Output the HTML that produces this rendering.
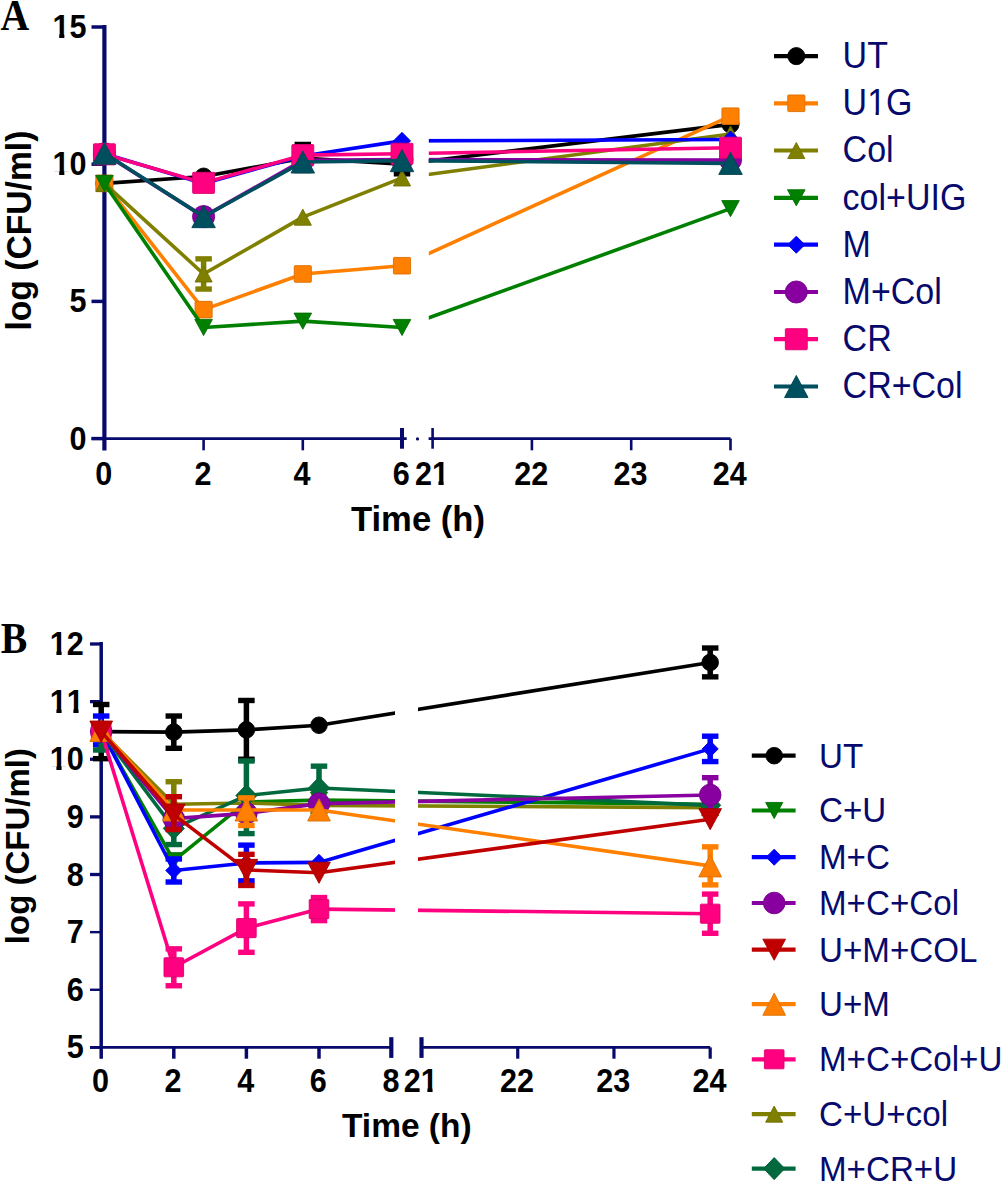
<!DOCTYPE html><html><head><meta charset="utf-8"><style>html,body{margin:0;padding:0;background:#fff;overflow:hidden;width:1003px;height:1184px;}svg{display:block;}</style></head><body>
<svg width="1003" height="1184" viewBox="0 0 1003 1184">
<style>text{font-family:"Liberation Sans",sans-serif;}.pl{font-family:"Liberation Serif",serif;font-weight:bold;font-size:41px;fill:#000}.tk{font-weight:bold;font-size:32px;fill:#000}.ti{font-weight:bold;font-size:34px;fill:#000}.tb{font-size:33px}.lg{font-size:34px;fill:#070a6c}.lb{font-size:33px}</style>
<rect width="1003" height="1184" fill="#fff"/>
<defs><clipPath id="c1"><rect x="-5" y="-40" width="40" height="36.2"/><rect x="6.9" y="-5" width="5.4" height="10"/></clipPath><clipPath id="c1r"><rect x="-5" y="-40" width="40" height="36.9"/><rect x="8.45" y="-5" width="3.2" height="10"/></clipPath><clipPath id="cA"><rect x="0" y="0" width="405.8" height="600"/><rect x="428.8" y="0" width="400" height="600"/></clipPath><clipPath id="cB"><rect x="0" y="600" width="395" height="600"/><rect x="418" y="600" width="400" height="600"/></clipPath></defs>
<line x1="104.4" y1="25" x2="104.4" y2="450.5" stroke="#070a6c" stroke-width="4.2"/>
<line x1="91.5" y1="438.6" x2="104.4" y2="438.6" stroke="#070a6c" stroke-width="3.5"/>
<line x1="91.5" y1="301.4" x2="104.4" y2="301.4" stroke="#070a6c" stroke-width="3.5"/>
<line x1="91.5" y1="164.2" x2="104.4" y2="164.2" stroke="#070a6c" stroke-width="3.5"/>
<line x1="91.5" y1="27" x2="104.4" y2="27" stroke="#070a6c" stroke-width="3.5"/>
<line x1="91.5" y1="438.6" x2="406.7" y2="438.6" stroke="#070a6c" stroke-width="2.8"/>
<line x1="428.6" y1="438.6" x2="730.5" y2="438.6" stroke="#070a6c" stroke-width="2.8"/>
<line x1="203.6" y1="438.6" x2="203.6" y2="450.3" stroke="#070a6c" stroke-width="2.6"/>
<line x1="302.8" y1="438.6" x2="302.8" y2="450.3" stroke="#070a6c" stroke-width="2.6"/>
<line x1="402" y1="428" x2="402" y2="448.7" stroke="#070a6c" stroke-width="4"/>
<circle cx="417.5" cy="438.9" r="1.6" fill="#070a6c"/>
<line x1="432.6" y1="428" x2="432.6" y2="448.7" stroke="#070a6c" stroke-width="2.6"/>
<line x1="531.9" y1="438.6" x2="531.9" y2="450.3" stroke="#070a6c" stroke-width="2.6"/>
<line x1="631.2" y1="438.6" x2="631.2" y2="450.3" stroke="#070a6c" stroke-width="2.6"/>
<line x1="730.5" y1="438.6" x2="730.5" y2="450.3" stroke="#070a6c" stroke-width="2.6"/>
<line x1="101.2" y1="642" x2="101.2" y2="1058.7" stroke="#070a6c" stroke-width="3.5"/>
<line x1="90" y1="1047.4" x2="101.2" y2="1047.4" stroke="#070a6c" stroke-width="2.8"/>
<line x1="90" y1="989.77" x2="101.2" y2="989.77" stroke="#070a6c" stroke-width="2.4"/>
<line x1="90" y1="932.14" x2="101.2" y2="932.14" stroke="#070a6c" stroke-width="2.4"/>
<line x1="90" y1="874.51" x2="101.2" y2="874.51" stroke="#070a6c" stroke-width="3.3"/>
<line x1="90" y1="816.88" x2="101.2" y2="816.88" stroke="#070a6c" stroke-width="3.3"/>
<line x1="90" y1="759.25" x2="101.2" y2="759.25" stroke="#070a6c" stroke-width="3.3"/>
<line x1="90" y1="701.62" x2="101.2" y2="701.62" stroke="#070a6c" stroke-width="3.3"/>
<line x1="90" y1="643.99" x2="101.2" y2="643.99" stroke="#070a6c" stroke-width="3.3"/>
<line x1="90" y1="1047.4" x2="391.3" y2="1047.4" stroke="#070a6c" stroke-width="2.6"/>
<line x1="421.5" y1="1047.4" x2="710.2" y2="1047.4" stroke="#070a6c" stroke-width="2.6"/>
<line x1="173.8" y1="1047.4" x2="173.8" y2="1058.7" stroke="#070a6c" stroke-width="3.5"/>
<line x1="246.4" y1="1047.4" x2="246.4" y2="1058.7" stroke="#070a6c" stroke-width="3.5"/>
<line x1="319" y1="1047.4" x2="319" y2="1058.7" stroke="#070a6c" stroke-width="3.5"/>
<line x1="391.3" y1="1037.2" x2="391.3" y2="1057.9" stroke="#070a6c" stroke-width="4.2"/>
<line x1="421.5" y1="1037.2" x2="421.5" y2="1057.9" stroke="#070a6c" stroke-width="4.2"/>
<line x1="517.73" y1="1047.4" x2="517.73" y2="1058.7" stroke="#070a6c" stroke-width="3.2"/>
<line x1="613.96" y1="1047.4" x2="613.96" y2="1058.7" stroke="#070a6c" stroke-width="3.2"/>
<line x1="710.19" y1="1047.4" x2="710.19" y2="1058.7" stroke="#070a6c" stroke-width="3.2"/>
<g>
<polyline points="104.4,183.41 203.6,176.55 302.8,158.16 402,164.2 730.5,124.41" fill="none" stroke="#000000" stroke-width="3.6" stroke-linejoin="round" clip-path="url(#cA)"/>
<rect x="300.05" y="144.44" width="5.5" height="26.07" fill="#000000"/><rect x="294.55" y="141.74" width="16.5" height="5.4" fill="#000000"/><rect x="294.55" y="167.81" width="16.5" height="5.4" fill="#000000"/>
<rect x="399.25" y="158.71" width="5.5" height="15.09" fill="#000000"/><rect x="393.75" y="156.01" width="16.5" height="5.4" fill="#000000"/><rect x="393.75" y="171.1" width="16.5" height="5.4" fill="#000000"/>
<circle cx="104.4" cy="183.41" r="8.55" fill="#000000" stroke="#000000" stroke-width="0.9" stroke-linejoin="round"/>
<circle cx="203.6" cy="176.55" r="8.55" fill="#000000" stroke="#000000" stroke-width="0.9" stroke-linejoin="round"/>
<circle cx="302.8" cy="158.16" r="8.55" fill="#000000" stroke="#000000" stroke-width="0.9" stroke-linejoin="round"/>
<circle cx="402" cy="164.2" r="8.55" fill="#000000" stroke="#000000" stroke-width="0.9" stroke-linejoin="round"/>
<circle cx="730.5" cy="124.41" r="8.55" fill="#000000" stroke="#000000" stroke-width="0.9" stroke-linejoin="round"/>
<polyline points="104.4,183.41 203.6,309.63 302.8,273.96 402,265.73 730.5,116.18" fill="none" stroke="#ff8000" stroke-width="3.6" stroke-linejoin="round" clip-path="url(#cA)"/>
<rect x="95.85" y="175.11" width="17.1" height="16.6" rx="0.8" fill="#ff8000" stroke="#db6e00" stroke-width="0.9" stroke-linejoin="round"/>
<rect x="195.05" y="301.33" width="17.1" height="16.6" rx="0.8" fill="#ff8000" stroke="#db6e00" stroke-width="0.9" stroke-linejoin="round"/>
<rect x="294.25" y="265.66" width="17.1" height="16.6" rx="0.8" fill="#ff8000" stroke="#db6e00" stroke-width="0.9" stroke-linejoin="round"/>
<rect x="393.45" y="257.43" width="17.1" height="16.6" rx="0.8" fill="#ff8000" stroke="#db6e00" stroke-width="0.9" stroke-linejoin="round"/>
<rect x="721.95" y="107.88" width="17.1" height="16.6" rx="0.8" fill="#ff8000" stroke="#db6e00" stroke-width="0.9" stroke-linejoin="round"/>
<polyline points="104.4,183.41 203.6,273.96 302.8,217.16 402,177.92 730.5,134.02" fill="none" stroke="#808000" stroke-width="3.6" stroke-linejoin="round" clip-path="url(#cA)"/>
<rect x="200.85" y="258.87" width="5.5" height="30.18" fill="#808000"/><rect x="195.35" y="256.17" width="16.5" height="5.4" fill="#808000"/><rect x="195.35" y="286.35" width="16.5" height="5.4" fill="#808000"/>
<path d="M104.4 175.36L112.95 191.46L95.85 191.46Z" fill="#808000" stroke="#6e6e00" stroke-width="0.9" stroke-linejoin="round"/>
<path d="M203.6 265.91L212.15 282.01L195.05 282.01Z" fill="#808000" stroke="#6e6e00" stroke-width="0.9" stroke-linejoin="round"/>
<path d="M302.8 209.11L311.35 225.21L294.25 225.21Z" fill="#808000" stroke="#6e6e00" stroke-width="0.9" stroke-linejoin="round"/>
<path d="M402 169.87L410.55 185.97L393.45 185.97Z" fill="#808000" stroke="#6e6e00" stroke-width="0.9" stroke-linejoin="round"/>
<path d="M730.5 125.97L739.05 142.07L721.95 142.07Z" fill="#808000" stroke="#6e6e00" stroke-width="0.9" stroke-linejoin="round"/>
<polyline points="104.4,183.41 203.6,327.47 302.8,321.16 402,327.47 730.5,208.65" fill="none" stroke="#008000" stroke-width="3.6" stroke-linejoin="round" clip-path="url(#cA)"/>
<path d="M104.4 191.46L113.2 175.36L95.6 175.36Z" fill="#008000" stroke="#006e00" stroke-width="0.9" stroke-linejoin="round"/>
<path d="M203.6 335.52L212.4 319.42L194.8 319.42Z" fill="#008000" stroke="#006e00" stroke-width="0.9" stroke-linejoin="round"/>
<path d="M302.8 329.21L311.6 313.11L294 313.11Z" fill="#008000" stroke="#006e00" stroke-width="0.9" stroke-linejoin="round"/>
<path d="M402 335.52L410.8 319.42L393.2 319.42Z" fill="#008000" stroke="#006e00" stroke-width="0.9" stroke-linejoin="round"/>
<path d="M730.5 216.7L739.3 200.6L721.7 200.6Z" fill="#008000" stroke="#006e00" stroke-width="0.9" stroke-linejoin="round"/>
<polyline points="104.4,153.77 203.6,183.41 302.8,155.97 402,140.88 730.5,139.5" fill="none" stroke="#0000ff" stroke-width="3.6" stroke-linejoin="round" clip-path="url(#cA)"/>
<path d="M104.4 145.22L112.95 153.77L104.4 162.32L95.85 153.77Z" fill="#0000ff" stroke="#0000db" stroke-width="0.9" stroke-linejoin="round"/>
<path d="M203.6 174.86L212.15 183.41L203.6 191.96L195.05 183.41Z" fill="#0000ff" stroke="#0000db" stroke-width="0.9" stroke-linejoin="round"/>
<path d="M302.8 147.42L311.35 155.97L302.8 164.52L294.25 155.97Z" fill="#0000ff" stroke="#0000db" stroke-width="0.9" stroke-linejoin="round"/>
<path d="M402 132.33L410.55 140.88L402 149.43L393.45 140.88Z" fill="#0000ff" stroke="#0000db" stroke-width="0.9" stroke-linejoin="round"/>
<path d="M730.5 130.95L739.05 139.5L730.5 148.05L721.95 139.5Z" fill="#0000ff" stroke="#0000db" stroke-width="0.9" stroke-linejoin="round"/>
<polyline points="104.4,153.77 203.6,216.61 302.8,160.36 402,159.54 730.5,160.08" fill="none" stroke="#8800a0" stroke-width="3.6" stroke-linejoin="round" clip-path="url(#cA)"/>
<circle cx="104.4" cy="153.77" r="11.05" fill="#8800a0" stroke="#740089" stroke-width="0.9" stroke-linejoin="round"/>
<circle cx="203.6" cy="216.61" r="11.05" fill="#8800a0" stroke="#740089" stroke-width="0.9" stroke-linejoin="round"/>
<circle cx="302.8" cy="160.36" r="11.05" fill="#8800a0" stroke="#740089" stroke-width="0.9" stroke-linejoin="round"/>
<circle cx="402" cy="159.54" r="11.05" fill="#8800a0" stroke="#740089" stroke-width="0.9" stroke-linejoin="round"/>
<circle cx="730.5" cy="160.08" r="11.05" fill="#8800a0" stroke="#740089" stroke-width="0.9" stroke-linejoin="round"/>
<polyline points="104.4,154.32 203.6,182.86 302.8,155.14 402,153.77 730.5,147.74" fill="none" stroke="#ff0080" stroke-width="3.6" stroke-linejoin="round" clip-path="url(#cA)"/>
<rect x="93.45" y="143.77" width="21.9" height="21.1" rx="0.8" fill="#ff0080" stroke="#db006e" stroke-width="0.9" stroke-linejoin="round"/>
<rect x="192.65" y="172.31" width="21.9" height="21.1" rx="0.8" fill="#ff0080" stroke="#db006e" stroke-width="0.9" stroke-linejoin="round"/>
<rect x="291.85" y="144.59" width="21.9" height="21.1" rx="0.8" fill="#ff0080" stroke="#db006e" stroke-width="0.9" stroke-linejoin="round"/>
<rect x="391.05" y="143.22" width="21.9" height="21.1" rx="0.8" fill="#ff0080" stroke="#db006e" stroke-width="0.9" stroke-linejoin="round"/>
<rect x="719.55" y="137.19" width="21.9" height="21.1" rx="0.8" fill="#ff0080" stroke="#db006e" stroke-width="0.9" stroke-linejoin="round"/>
<polyline points="104.4,153.22 203.6,216.61 302.8,162 402,160.63 730.5,163.38" fill="none" stroke="#004f5f" stroke-width="3.6" stroke-linejoin="round" clip-path="url(#cA)"/>
<path d="M104.4 142.17L116.15 164.27L92.65 164.27Z" fill="#004f5f" stroke="#004351" stroke-width="0.9" stroke-linejoin="round"/>
<path d="M203.6 205.56L215.35 227.66L191.85 227.66Z" fill="#004f5f" stroke="#004351" stroke-width="0.9" stroke-linejoin="round"/>
<path d="M302.8 150.95L314.55 173.05L291.05 173.05Z" fill="#004f5f" stroke="#004351" stroke-width="0.9" stroke-linejoin="round"/>
<path d="M402 149.58L413.75 171.68L390.25 171.68Z" fill="#004f5f" stroke="#004351" stroke-width="0.9" stroke-linejoin="round"/>
<path d="M730.5 152.33L742.25 174.43L718.75 174.43Z" fill="#004f5f" stroke="#004351" stroke-width="0.9" stroke-linejoin="round"/>
</g>
<g>
<polyline points="101.2,731.59 173.8,732.16 246.4,729.86 319,725.25 710.19,662.43" fill="none" stroke="#000000" stroke-width="3.6" stroke-linejoin="round" clip-path="url(#cB)"/>
<rect x="98.45" y="704.5" width="5.5" height="54.17" fill="#000000"/><rect x="92.95" y="701.8" width="16.5" height="5.4" fill="#000000"/><rect x="92.95" y="755.97" width="16.5" height="5.4" fill="#000000"/>
<rect x="171.05" y="716.03" width="5.5" height="32.27" fill="#000000"/><rect x="165.55" y="713.33" width="16.5" height="5.4" fill="#000000"/><rect x="165.55" y="745.6" width="16.5" height="5.4" fill="#000000"/>
<rect x="243.65" y="700.47" width="5.5" height="58.78" fill="#000000"/><rect x="238.15" y="697.77" width="16.5" height="5.4" fill="#000000"/><rect x="238.15" y="756.55" width="16.5" height="5.4" fill="#000000"/>
<rect x="707.44" y="648.02" width="5.5" height="28.82" fill="#000000"/><rect x="701.94" y="645.32" width="16.5" height="5.4" fill="#000000"/><rect x="701.94" y="674.14" width="16.5" height="5.4" fill="#000000"/>
<circle cx="101.2" cy="731.59" r="8.3" fill="#000000" stroke="#000000" stroke-width="0.9" stroke-linejoin="round"/>
<circle cx="173.8" cy="732.16" r="8.3" fill="#000000" stroke="#000000" stroke-width="0.9" stroke-linejoin="round"/>
<circle cx="246.4" cy="729.86" r="8.3" fill="#000000" stroke="#000000" stroke-width="0.9" stroke-linejoin="round"/>
<circle cx="319" cy="725.25" r="8.3" fill="#000000" stroke="#000000" stroke-width="0.9" stroke-linejoin="round"/>
<circle cx="710.19" cy="662.43" r="8.3" fill="#000000" stroke="#000000" stroke-width="0.9" stroke-linejoin="round"/>
<polyline points="101.2,731.59 173.8,860.68 246.4,801.9 319,800.17 710.19,804.2" fill="none" stroke="#008000" stroke-width="3.6" stroke-linejoin="round" clip-path="url(#cB)"/>
<path d="M101.2 739.64L109.75 723.54L92.65 723.54Z" fill="#008000" stroke="#006e00" stroke-width="0.9" stroke-linejoin="round"/>
<path d="M173.8 868.73L182.35 852.63L165.25 852.63Z" fill="#008000" stroke="#006e00" stroke-width="0.9" stroke-linejoin="round"/>
<path d="M246.4 809.95L254.95 793.85L237.85 793.85Z" fill="#008000" stroke="#006e00" stroke-width="0.9" stroke-linejoin="round"/>
<path d="M319 808.22L327.55 792.12L310.45 792.12Z" fill="#008000" stroke="#006e00" stroke-width="0.9" stroke-linejoin="round"/>
<path d="M710.19 812.25L718.74 796.15L701.64 796.15Z" fill="#008000" stroke="#006e00" stroke-width="0.9" stroke-linejoin="round"/>
<polyline points="101.2,731.59 173.8,804.2 246.4,803.05 319,805.35 710.19,807.66" fill="none" stroke="#808000" stroke-width="3.6" stroke-linejoin="round" clip-path="url(#cB)"/>
<rect x="171.05" y="781.73" width="5.5" height="44.95" fill="#808000"/><rect x="165.55" y="779.03" width="16.5" height="5.4" fill="#808000"/><rect x="165.55" y="823.98" width="16.5" height="5.4" fill="#808000"/>
<path d="M101.2 723.54L109.75 739.64L92.65 739.64Z" fill="#808000" stroke="#6e6e00" stroke-width="0.9" stroke-linejoin="round"/>
<path d="M173.8 796.15L182.35 812.25L165.25 812.25Z" fill="#808000" stroke="#6e6e00" stroke-width="0.9" stroke-linejoin="round"/>
<path d="M246.4 795L254.95 811.1L237.85 811.1Z" fill="#808000" stroke="#6e6e00" stroke-width="0.9" stroke-linejoin="round"/>
<path d="M319 797.3L327.55 813.4L310.45 813.4Z" fill="#808000" stroke="#6e6e00" stroke-width="0.9" stroke-linejoin="round"/>
<path d="M710.19 799.61L718.74 815.71L701.64 815.71Z" fill="#808000" stroke="#6e6e00" stroke-width="0.9" stroke-linejoin="round"/>
<polyline points="101.2,730.44 173.8,870.48 246.4,862.98 319,862.41 710.19,748.88" fill="none" stroke="#0000ff" stroke-width="3.6" stroke-linejoin="round" clip-path="url(#cB)"/>
<rect x="98.45" y="716.03" width="5.5" height="28.81" fill="#0000ff"/><rect x="92.95" y="713.33" width="16.5" height="5.4" fill="#0000ff"/><rect x="92.95" y="742.14" width="16.5" height="5.4" fill="#0000ff"/>
<rect x="171.05" y="858.95" width="5.5" height="23.05" fill="#0000ff"/><rect x="165.55" y="856.25" width="16.5" height="5.4" fill="#0000ff"/><rect x="165.55" y="879.3" width="16.5" height="5.4" fill="#0000ff"/>
<rect x="243.65" y="845.12" width="5.5" height="35.73" fill="#0000ff"/><rect x="238.15" y="842.42" width="16.5" height="5.4" fill="#0000ff"/><rect x="238.15" y="878.15" width="16.5" height="5.4" fill="#0000ff"/>
<rect x="707.44" y="736.2" width="5.5" height="25.36" fill="#0000ff"/><rect x="701.94" y="733.5" width="16.5" height="5.4" fill="#0000ff"/><rect x="701.94" y="758.86" width="16.5" height="5.4" fill="#0000ff"/>
<path d="M101.2 722.39L109.25 730.44L101.2 738.49L93.15 730.44Z" fill="#0000ff" stroke="#0000db" stroke-width="0.9" stroke-linejoin="round"/>
<path d="M173.8 862.43L181.85 870.48L173.8 878.53L165.75 870.48Z" fill="#0000ff" stroke="#0000db" stroke-width="0.9" stroke-linejoin="round"/>
<path d="M246.4 854.93L254.45 862.98L246.4 871.03L238.35 862.98Z" fill="#0000ff" stroke="#0000db" stroke-width="0.9" stroke-linejoin="round"/>
<path d="M319 854.36L327.05 862.41L319 870.46L310.95 862.41Z" fill="#0000ff" stroke="#0000db" stroke-width="0.9" stroke-linejoin="round"/>
<path d="M710.19 740.83L718.24 748.88L710.19 756.93L702.14 748.88Z" fill="#0000ff" stroke="#0000db" stroke-width="0.9" stroke-linejoin="round"/>
<polyline points="101.2,731.59 173.8,828.41 246.4,795.56 319,788.07 710.19,805.35" fill="none" stroke="#006a3e" stroke-width="3.6" stroke-linejoin="round" clip-path="url(#cB)"/>
<rect x="98.45" y="728.71" width="5.5" height="21.32" fill="#006a3e"/><rect x="92.95" y="726.01" width="16.5" height="5.4" fill="#006a3e"/><rect x="92.95" y="747.33" width="16.5" height="5.4" fill="#006a3e"/>
<rect x="171.05" y="811.12" width="5.5" height="33.43" fill="#006a3e"/><rect x="165.55" y="808.42" width="16.5" height="5.4" fill="#006a3e"/><rect x="165.55" y="841.84" width="16.5" height="5.4" fill="#006a3e"/>
<rect x="243.65" y="760.98" width="5.5" height="72.61" fill="#006a3e"/><rect x="238.15" y="758.28" width="16.5" height="5.4" fill="#006a3e"/><rect x="238.15" y="830.89" width="16.5" height="5.4" fill="#006a3e"/>
<rect x="316.25" y="766.17" width="5.5" height="43.8" fill="#006a3e"/><rect x="310.75" y="763.47" width="16.5" height="5.4" fill="#006a3e"/><rect x="310.75" y="807.26" width="16.5" height="5.4" fill="#006a3e"/>
<path d="M101.2 720.54L111.75 731.59L101.2 742.64L90.65 731.59Z" fill="#006a3e" stroke="#005b35" stroke-width="0.9" stroke-linejoin="round"/>
<path d="M173.8 817.36L184.35 828.41L173.8 839.46L163.25 828.41Z" fill="#006a3e" stroke="#005b35" stroke-width="0.9" stroke-linejoin="round"/>
<path d="M246.4 784.51L256.95 795.56L246.4 806.61L235.85 795.56Z" fill="#006a3e" stroke="#005b35" stroke-width="0.9" stroke-linejoin="round"/>
<path d="M319 777.02L329.55 788.07L319 799.12L308.45 788.07Z" fill="#006a3e" stroke="#005b35" stroke-width="0.9" stroke-linejoin="round"/>
<path d="M710.19 794.3L720.74 805.35L710.19 816.4L699.64 805.35Z" fill="#006a3e" stroke="#005b35" stroke-width="0.9" stroke-linejoin="round"/>
<polyline points="101.2,731.59 173.8,818.61 246.4,813.42 319,803.63 710.19,794.98" fill="none" stroke="#8800a0" stroke-width="3.6" stroke-linejoin="round" clip-path="url(#cB)"/>
<rect x="171.05" y="811.69" width="5.5" height="13.83" fill="#8800a0"/><rect x="165.55" y="808.99" width="16.5" height="5.4" fill="#8800a0"/><rect x="165.55" y="822.82" width="16.5" height="5.4" fill="#8800a0"/>
<rect x="707.44" y="777.69" width="5.5" height="34.58" fill="#8800a0"/><rect x="701.94" y="774.99" width="16.5" height="5.4" fill="#8800a0"/><rect x="701.94" y="809.57" width="16.5" height="5.4" fill="#8800a0"/>
<circle cx="101.2" cy="731.59" r="10.8" fill="#8800a0" stroke="#740089" stroke-width="0.9" stroke-linejoin="round"/>
<circle cx="173.8" cy="818.61" r="10.8" fill="#8800a0" stroke="#740089" stroke-width="0.9" stroke-linejoin="round"/>
<circle cx="246.4" cy="813.42" r="10.8" fill="#8800a0" stroke="#740089" stroke-width="0.9" stroke-linejoin="round"/>
<circle cx="319" cy="803.63" r="10.8" fill="#8800a0" stroke="#740089" stroke-width="0.9" stroke-linejoin="round"/>
<circle cx="710.19" cy="794.98" r="10.8" fill="#8800a0" stroke="#740089" stroke-width="0.9" stroke-linejoin="round"/>
<polyline points="101.2,731.59 173.8,967.29 246.4,928.11 319,909.09 710.19,913.7" fill="none" stroke="#ff0080" stroke-width="3.6" stroke-linejoin="round" clip-path="url(#cB)"/>
<rect x="171.05" y="948.85" width="5.5" height="36.88" fill="#ff0080"/><rect x="165.55" y="946.15" width="16.5" height="5.4" fill="#ff0080"/><rect x="165.55" y="983.04" width="16.5" height="5.4" fill="#ff0080"/>
<rect x="243.65" y="903.9" width="5.5" height="48.41" fill="#ff0080"/><rect x="238.15" y="901.2" width="16.5" height="5.4" fill="#ff0080"/><rect x="238.15" y="949.61" width="16.5" height="5.4" fill="#ff0080"/>
<rect x="316.25" y="897.56" width="5.5" height="23.05" fill="#ff0080"/><rect x="310.75" y="894.86" width="16.5" height="5.4" fill="#ff0080"/><rect x="310.75" y="917.91" width="16.5" height="5.4" fill="#ff0080"/>
<rect x="707.44" y="894.1" width="5.5" height="39.19" fill="#ff0080"/><rect x="701.94" y="891.4" width="16.5" height="5.4" fill="#ff0080"/><rect x="701.94" y="930.59" width="16.5" height="5.4" fill="#ff0080"/>
<rect x="91.4" y="722.04" width="19.6" height="19.1" rx="0.8" fill="#ff0080" stroke="#db006e" stroke-width="0.9" stroke-linejoin="round"/>
<rect x="164" y="957.74" width="19.6" height="19.1" rx="0.8" fill="#ff0080" stroke="#db006e" stroke-width="0.9" stroke-linejoin="round"/>
<rect x="236.6" y="918.56" width="19.6" height="19.1" rx="0.8" fill="#ff0080" stroke="#db006e" stroke-width="0.9" stroke-linejoin="round"/>
<rect x="309.2" y="899.54" width="19.6" height="19.1" rx="0.8" fill="#ff0080" stroke="#db006e" stroke-width="0.9" stroke-linejoin="round"/>
<rect x="700.39" y="904.15" width="19.6" height="19.1" rx="0.8" fill="#ff0080" stroke="#db006e" stroke-width="0.9" stroke-linejoin="round"/>
<polyline points="101.2,730.44 173.8,809.96 246.4,809.96 319,809.96 710.19,865.87" fill="none" stroke="#ff8000" stroke-width="3.6" stroke-linejoin="round" clip-path="url(#cB)"/>
<rect x="243.65" y="797.86" width="5.5" height="27.66" fill="#ff8000"/><rect x="238.15" y="795.16" width="16.5" height="5.4" fill="#ff8000"/><rect x="238.15" y="822.82" width="16.5" height="5.4" fill="#ff8000"/>
<rect x="707.44" y="846.85" width="5.5" height="38.04" fill="#ff8000"/><rect x="701.94" y="844.15" width="16.5" height="5.4" fill="#ff8000"/><rect x="701.94" y="882.18" width="16.5" height="5.4" fill="#ff8000"/>
<path d="M101.2 719.39L112.55 741.49L89.85 741.49Z" fill="#ff8000" stroke="#db6e00" stroke-width="0.9" stroke-linejoin="round"/>
<path d="M173.8 798.91L185.15 821.01L162.45 821.01Z" fill="#ff8000" stroke="#db6e00" stroke-width="0.9" stroke-linejoin="round"/>
<path d="M246.4 798.91L257.75 821.01L235.05 821.01Z" fill="#ff8000" stroke="#db6e00" stroke-width="0.9" stroke-linejoin="round"/>
<path d="M319 798.91L330.35 821.01L307.65 821.01Z" fill="#ff8000" stroke="#db6e00" stroke-width="0.9" stroke-linejoin="round"/>
<path d="M710.19 854.82L721.54 876.92L698.84 876.92Z" fill="#ff8000" stroke="#db6e00" stroke-width="0.9" stroke-linejoin="round"/>
<polyline points="101.2,731.59 173.8,814.57 246.4,869.9 319,872.78 710.19,819.19" fill="none" stroke="#c00000" stroke-width="3.6" stroke-linejoin="round" clip-path="url(#cB)"/>
<rect x="171.05" y="796.71" width="5.5" height="32.85" fill="#c00000"/><rect x="165.55" y="794.01" width="16.5" height="5.4" fill="#c00000"/><rect x="165.55" y="826.86" width="16.5" height="5.4" fill="#c00000"/>
<rect x="243.65" y="854.34" width="5.5" height="31.12" fill="#c00000"/><rect x="238.15" y="851.64" width="16.5" height="5.4" fill="#c00000"/><rect x="238.15" y="882.76" width="16.5" height="5.4" fill="#c00000"/>
<path d="M101.2 742.14L112.55 721.04L89.85 721.04Z" fill="#c00000" stroke="#a50000" stroke-width="0.9" stroke-linejoin="round"/>
<path d="M173.8 825.12L185.15 804.02L162.45 804.02Z" fill="#c00000" stroke="#a50000" stroke-width="0.9" stroke-linejoin="round"/>
<path d="M246.4 880.45L257.75 859.35L235.05 859.35Z" fill="#c00000" stroke="#a50000" stroke-width="0.9" stroke-linejoin="round"/>
<path d="M319 883.33L330.35 862.23L307.65 862.23Z" fill="#c00000" stroke="#a50000" stroke-width="0.9" stroke-linejoin="round"/>
<path d="M710.19 829.74L721.54 808.64L698.84 808.64Z" fill="#c00000" stroke="#a50000" stroke-width="0.9" stroke-linejoin="round"/>
</g>
<text transform="translate(0.5 29.6) scale(0.97 1.08)" class="pl">A</text>
<text transform="translate(0.8 652.5) scale(0.97 1.08)" class="pl">B</text>
<text transform="translate(86.6 449.6) scale(0.955 1.02)" text-anchor="end" class="tk">0</text>
<text transform="translate(86.6 312.4) scale(0.955 1.02)" text-anchor="end" class="tk">5</text>
<g transform="translate(86.6 175.2) scale(0.955 1.02)"><g transform="translate(-35.58 0)"><text x="0" y="0" class="tk" clip-path="url(#c1)">1</text></g><text x="-17.79" y="0" class="tk">0</text></g>
<g transform="translate(86.6 38) scale(0.955 1.02)"><g transform="translate(-35.58 0)"><text x="0" y="0" class="tk" clip-path="url(#c1)">1</text></g><text x="-17.79" y="0" class="tk">5</text></g>
<text transform="translate(103.7 484.7) scale(0.955 1.02)" text-anchor="middle" class="tk">0</text>
<text transform="translate(202.9 484.7) scale(0.955 1.02)" text-anchor="middle" class="tk">2</text>
<text transform="translate(302.1 484.7) scale(0.955 1.02)" text-anchor="middle" class="tk">4</text>
<text transform="translate(401.3 484.7) scale(0.955 1.02)" text-anchor="middle" class="tk">6</text>
<g transform="translate(431.9 484.7) scale(0.955 1.02)"><text x="-17.79" y="0" class="tk">2</text><g transform="translate(0 0)"><text x="0" y="0" class="tk" clip-path="url(#c1)">1</text></g></g>
<text transform="translate(531.2 484.7) scale(0.955 1.02)" text-anchor="middle" class="tk">22</text>
<text transform="translate(630.5 484.7) scale(0.955 1.02)" text-anchor="middle" class="tk">23</text>
<text transform="translate(729.8 484.7) scale(0.955 1.02)" text-anchor="middle" class="tk">24</text>
<text transform="translate(83.8 1058.4) scale(0.955 1.02)" text-anchor="end" class="tk">5</text>
<text transform="translate(83.8 1000.77) scale(0.955 1.02)" text-anchor="end" class="tk">6</text>
<text transform="translate(83.8 943.14) scale(0.955 1.02)" text-anchor="end" class="tk">7</text>
<text transform="translate(83.8 885.51) scale(0.955 1.02)" text-anchor="end" class="tk">8</text>
<text transform="translate(83.8 827.88) scale(0.955 1.02)" text-anchor="end" class="tk">9</text>
<g transform="translate(83.8 770.25) scale(0.955 1.02)"><g transform="translate(-35.58 0)"><text x="0" y="0" class="tk" clip-path="url(#c1)">1</text></g><text x="-17.79" y="0" class="tk">0</text></g>
<g transform="translate(83.8 712.62) scale(0.955 1.02)"><g transform="translate(-35.58 0)"><text x="0" y="0" class="tk" clip-path="url(#c1)">1</text></g><g transform="translate(-17.79 0)"><text x="0" y="0" class="tk" clip-path="url(#c1)">1</text></g></g>
<g transform="translate(83.8 654.99) scale(0.955 1.02)"><g transform="translate(-35.58 0)"><text x="0" y="0" class="tk" clip-path="url(#c1)">1</text></g><text x="-17.79" y="0" class="tk">2</text></g>
<text transform="translate(100.5 1092) scale(0.955 1.02)" text-anchor="middle" class="tk">0</text>
<text transform="translate(173.1 1092) scale(0.955 1.02)" text-anchor="middle" class="tk">2</text>
<text transform="translate(245.7 1092) scale(0.955 1.02)" text-anchor="middle" class="tk">4</text>
<text transform="translate(318.3 1092) scale(0.955 1.02)" text-anchor="middle" class="tk">6</text>
<text transform="translate(390.9 1092) scale(0.955 1.02)" text-anchor="middle" class="tk">8</text>
<g transform="translate(420.8 1092) scale(0.955 1.02)"><text x="-17.79" y="0" class="tk">2</text><g transform="translate(0 0)"><text x="0" y="0" class="tk" clip-path="url(#c1)">1</text></g></g>
<text transform="translate(517.03 1092) scale(0.955 1.02)" text-anchor="middle" class="tk">22</text>
<text transform="translate(613.26 1092) scale(0.955 1.02)" text-anchor="middle" class="tk">23</text>
<text transform="translate(709.49 1092) scale(0.955 1.02)" text-anchor="middle" class="tk">24</text>
<text transform="translate(351 530.9) scale(1.018 1.045)" class="ti">Time (h)</text>
<text transform="translate(342 1136.9) scale(1.015 1.01)" class="ti tb">Time (h)</text>
<text transform="translate(31 330.6) rotate(-90) scale(0.99 1.03)" class="ti">log (CFU/ml)</text>
<text transform="translate(29.4 944.2) rotate(-90)" class="ti tb">log (CFU/ml)</text>
<line x1="774" y1="56.1" x2="818" y2="56.1" stroke="#000000" stroke-width="4.2"/>
<circle cx="796.3" cy="56.1" r="8.55" fill="#000000" stroke="#000000" stroke-width="0.9" stroke-linejoin="round"/>
<text transform="translate(842.6 68) scale(1.0 1.08)" class="lg">UT</text>
<line x1="774" y1="103.3" x2="818" y2="103.3" stroke="#ff8000" stroke-width="4.2"/>
<rect x="787.75" y="95" width="17.1" height="16.6" rx="0.8" fill="#ff8000" stroke="#db6e00" stroke-width="0.9" stroke-linejoin="round"/>
<g transform="translate(842.6 115.2) scale(1.0 1.08)"><text x="0" y="0" class="lg">U</text><g transform="translate(24.55 0)"><text x="0" y="0" class="lg" clip-path="url(#c1r)">1</text></g><text x="43.45" y="0" class="lg">G</text></g>
<line x1="774" y1="150.5" x2="818" y2="150.5" stroke="#808000" stroke-width="4.2"/>
<path d="M796.3 142.45L804.85 158.55L787.75 158.55Z" fill="#808000" stroke="#6e6e00" stroke-width="0.9" stroke-linejoin="round"/>
<text transform="translate(842.6 162.4) scale(1.0 1.08)" class="lg">Col</text>
<line x1="774" y1="197.8" x2="818" y2="197.8" stroke="#008000" stroke-width="4.2"/>
<path d="M796.3 205.85L805.1 189.75L787.5 189.75Z" fill="#008000" stroke="#006e00" stroke-width="0.9" stroke-linejoin="round"/>
<text transform="translate(842.6 209.7) scale(1.0 1.08)" class="lg">col+UIG</text>
<line x1="774" y1="244.7" x2="818" y2="244.7" stroke="#0000ff" stroke-width="4.2"/>
<path d="M796.3 236.15L804.85 244.7L796.3 253.25L787.75 244.7Z" fill="#0000ff" stroke="#0000db" stroke-width="0.9" stroke-linejoin="round"/>
<text transform="translate(842.6 256.6) scale(1.0 1.08)" class="lg">M</text>
<line x1="774" y1="292" x2="818" y2="292" stroke="#8800a0" stroke-width="4.2"/>
<circle cx="796.3" cy="292" r="11.05" fill="#8800a0" stroke="#740089" stroke-width="0.9" stroke-linejoin="round"/>
<text transform="translate(842.6 303.9) scale(1.0 1.08)" class="lg">M+Col</text>
<line x1="774" y1="339.2" x2="818" y2="339.2" stroke="#ff0080" stroke-width="4.2"/>
<rect x="785.35" y="328.65" width="21.9" height="21.1" rx="0.8" fill="#ff0080" stroke="#db006e" stroke-width="0.9" stroke-linejoin="round"/>
<text transform="translate(842.6 351.1) scale(1.0 1.08)" class="lg">CR</text>
<line x1="774" y1="386.5" x2="818" y2="386.5" stroke="#004f5f" stroke-width="4.2"/>
<path d="M796.3 375.45L808.05 397.55L784.55 397.55Z" fill="#004f5f" stroke="#004351" stroke-width="0.9" stroke-linejoin="round"/>
<text transform="translate(842.6 398.4) scale(1.0 1.08)" class="lg">CR+Col</text>
<line x1="751.8" y1="755.7" x2="795.6" y2="755.7" stroke="#000000" stroke-width="4.2"/>
<circle cx="774.2" cy="755.7" r="8.3" fill="#000000" stroke="#000000" stroke-width="0.9" stroke-linejoin="round"/>
<text transform="translate(819 767.6) scale(1.005 1.05)" class="lg lb">UT</text>
<line x1="751.8" y1="810.5" x2="795.6" y2="810.5" stroke="#008000" stroke-width="4.2"/>
<path d="M774.2 818.55L782.75 802.45L765.65 802.45Z" fill="#008000" stroke="#006e00" stroke-width="0.9" stroke-linejoin="round"/>
<text transform="translate(819 822.4) scale(1.005 1.05)" class="lg lb">C+U</text>
<line x1="751.8" y1="857.2" x2="795.6" y2="857.2" stroke="#0000ff" stroke-width="4.2"/>
<path d="M774.2 849.15L782.25 857.2L774.2 865.25L766.15 857.2Z" fill="#0000ff" stroke="#0000db" stroke-width="0.9" stroke-linejoin="round"/>
<text transform="translate(819 869.1) scale(1.005 1.05)" class="lg lb">M+C</text>
<line x1="751.8" y1="903" x2="795.6" y2="903" stroke="#8800a0" stroke-width="4.2"/>
<circle cx="774.2" cy="903" r="10.8" fill="#8800a0" stroke="#740089" stroke-width="0.9" stroke-linejoin="round"/>
<text transform="translate(819 914.9) scale(1.005 1.05)" class="lg lb">M+C+Col</text>
<line x1="751.8" y1="949.7" x2="795.6" y2="949.7" stroke="#c00000" stroke-width="4.2"/>
<path d="M774.2 960.25L785.55 939.15L762.85 939.15Z" fill="#c00000" stroke="#a50000" stroke-width="0.9" stroke-linejoin="round"/>
<text transform="translate(819 961.6) scale(1.005 1.05)" class="lg lb">U+M+COL</text>
<line x1="751.8" y1="1004.2" x2="795.6" y2="1004.2" stroke="#ff8000" stroke-width="4.2"/>
<path d="M774.2 993.15L785.55 1015.25L762.85 1015.25Z" fill="#ff8000" stroke="#db6e00" stroke-width="0.9" stroke-linejoin="round"/>
<text transform="translate(819 1016.1) scale(1.005 1.05)" class="lg lb">U+M</text>
<line x1="751.8" y1="1059.3" x2="795.6" y2="1059.3" stroke="#ff0080" stroke-width="4.2"/>
<rect x="764.4" y="1049.75" width="19.6" height="19.1" rx="0.8" fill="#ff0080" stroke="#db006e" stroke-width="0.9" stroke-linejoin="round"/>
<text transform="translate(819 1071.2) scale(1.005 1.05)" class="lg lb">M+C+Col+U</text>
<line x1="751.8" y1="1114.1" x2="795.6" y2="1114.1" stroke="#808000" stroke-width="4.2"/>
<path d="M774.2 1106.05L782.75 1122.15L765.65 1122.15Z" fill="#808000" stroke="#6e6e00" stroke-width="0.9" stroke-linejoin="round"/>
<text transform="translate(819 1126) scale(1.005 1.05)" class="lg lb">C+U+col</text>
<line x1="751.8" y1="1168.6" x2="795.6" y2="1168.6" stroke="#006a3e" stroke-width="4.2"/>
<path d="M774.2 1157.55L784.75 1168.6L774.2 1179.65L763.65 1168.6Z" fill="#006a3e" stroke="#005b35" stroke-width="0.9" stroke-linejoin="round"/>
<text transform="translate(819 1180.5) scale(1.005 1.05)" class="lg lb">M+CR+U</text>
</svg></body></html>
